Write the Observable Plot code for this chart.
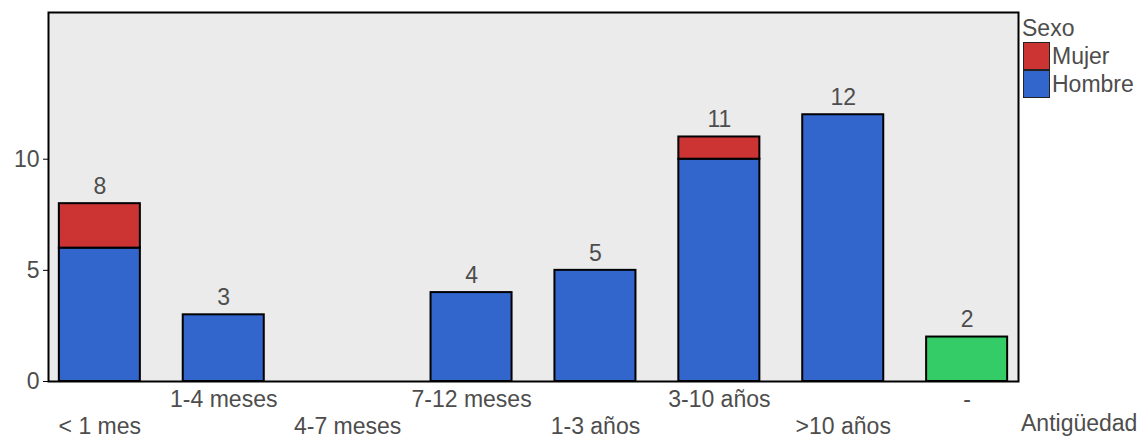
<!DOCTYPE html>
<html><head><meta charset="utf-8">
<script src="https://cdn.jsdelivr.net/npm/d3@7"></script>
<script src="https://cdn.jsdelivr.net/npm/@observablehq/plot@0.6"></script>
<style>
body{margin:0;background:#fff;font-family:"Liberation Sans",Arial,sans-serif;}
#wrap{position:relative;width:1147px;height:439px;}
#wrap svg{overflow:visible;}
.lg{position:absolute;color:#4d4d4d;font-size:23px;line-height:23px;}
.sw{position:absolute;width:27px;height:28px;border:1px solid #222;box-sizing:border-box;}
</style></head>
<body><div id="wrap"></div>
<script>
const categories = ["< 1 mes","1-4 meses","4-7 meses","7-12 meses","1-3 años","3-10 años",">10 años","-"];
const hombre = [6,3,0,4,5,10,12,0];
const mujer  = [2,0,0,0,0,1,0,0];
const sinDato = [0,0,0,0,0,0,0,2];
const totals = [8,3,null,4,5,11,12,2];
const yTicks = [0,5,10];
const sexos = ["Mujer","Hombre","NA"];
const colores = ["#CC3333","#3366CC","#33CC66"];

const rows = [];
categories.forEach((c,i)=>{
  if (hombre[i]) rows.push({cat:c, sexo:"Hombre", n:hombre[i]});
  if (mujer[i]) rows.push({cat:c, sexo:"Mujer", n:mujer[i]});
  if (sinDato[i]) rows.push({cat:c, sexo:"NA", n:sinDato[i]});
});
const labels = categories.map((c,i)=>({cat:c, t:totals[i]})).filter(d=>d.t!=null);

const chart = Plot.plot({
  width:1147, height:439,
  marginLeft:48, marginRight:129, marginTop:12, marginBottom:58,
  style:{fontFamily:'"Liberation Sans",Arial,sans-serif', fontSize:"23px", color:"#4d4d4d", background:"white", overflow:"visible"},
  x:{domain:categories, paddingInner:0.346, paddingOuter:0.0875, round:false, axis:null},
  y:{domain:[0,16.6], axis:null},
  color:{domain:sexos, range:colores},
  marks:[
    Plot.frame({fill:"#EBEBEB"}),
    Plot.barY(rows, {x:"cat", y:"n", fill:"sexo", stroke:"black", strokeWidth:2, inset:0}),
    Plot.text(labels, {x:"cat", y:"t", text:d=>String(d.t), dy:-17, fill:"#4d4d4d", fontSize:23}),
    Plot.frame({stroke:"black", strokeWidth:2}),
    Plot.axisY(yTicks, {tickSize:5, tickPadding:4, stroke:"black", fill:"#4d4d4d", fontSize:23, label:null}),
    Plot.axisX(categories.filter((d,i)=>i%2===1), {tickSize:0, tickPadding:9, fill:"#4d4d4d", fontSize:23, label:null}),
    Plot.axisX(categories.filter((d,i)=>i%2===0), {tickSize:0, tickPadding:36, fill:"#4d4d4d", fontSize:23, label:null})
  ]
});
const wrap = document.getElementById("wrap");
wrap.appendChild(chart);

function add(html){ const d=document.createElement("div"); d.innerHTML=html; wrap.appendChild(d.firstChild); }
add('<div class="lg" style="left:1022px;top:17px;">Sexo</div>');
add('<div class="sw" style="left:1023px;top:42px;background:#CC3333"></div>');
add('<div class="lg" style="left:1052px;top:45px;">Mujer</div>');
add('<div class="sw" style="left:1023px;top:70px;background:#3366CC"></div>');
add('<div class="lg" style="left:1052px;top:73px;">Hombre</div>');
add('<div class="lg" style="left:1021px;top:412px;">Antigüedad</div>');
</script></body></html>
